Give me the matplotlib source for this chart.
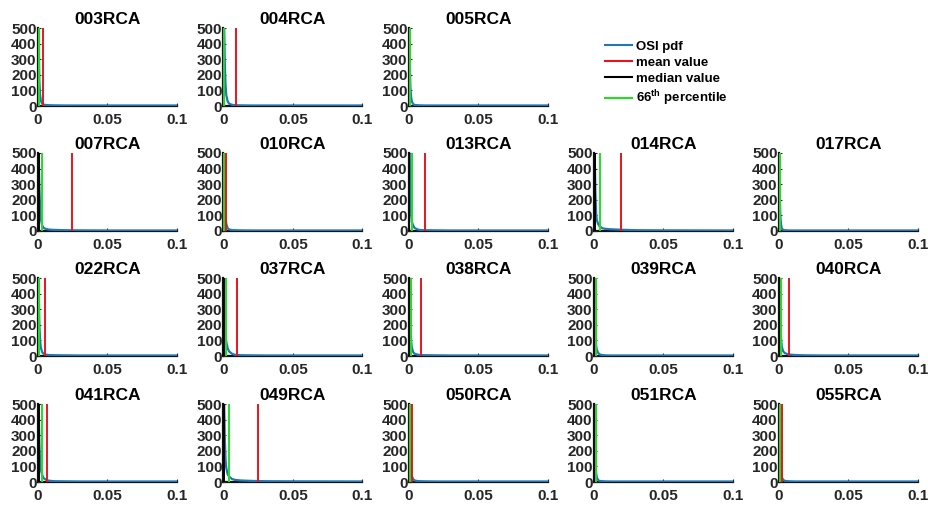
import matplotlib.pyplot as plt
from matplotlib.lines import Line2D

plt.rcParams['font.family'] = ['Liberation Sans', 'DejaVu Sans']
plt.rcParams['font.weight'] = 'bold'
plt.rcParams['mathtext.fontset'] = 'custom'
plt.rcParams['mathtext.bf'] = 'Liberation Sans:bold'
plt.rcParams['mathtext.rm'] = 'Liberation Sans:bold'

# subjects, laid out row by row (row 1 has a legend in slot 4 and slot 5 empty)
subjects = ['003RCA', '004RCA', '005RCA',
            '007RCA', '010RCA', '013RCA', '014RCA', '017RCA',
            '022RCA', '037RCA', '038RCA', '039RCA', '040RCA',
            '041RCA', '049RCA', '050RCA', '051RCA', '055RCA']
slots = [(0, 0), (0, 1), (0, 2),
         (1, 0), (1, 1), (1, 2), (1, 3), (1, 4),
         (2, 0), (2, 1), (2, 2), (2, 3), (2, 4),
         (3, 0), (3, 1), (3, 2), (3, 3), (3, 4)]

# summary statistics of OSI per subject
mean_osi = [0.0033, 0.0093, 0.0008, 0.0243, 0.0020, 0.0115, 0.0192, 0.0006,
            0.0050, 0.0100, 0.0086, 0.0015, 0.0072, 0.0065, 0.0250, 0.0022,
            0.0012, 0.0022]
median_osi = [0.0003, 0.0002, 0.0002, 0.0005, 0.0002, 0.0003, 0.0005, 0.0002,
              0.0002, 0.0005, 0.0003, 0.0002, 0.0004, 0.0004, 0.0004, 0.0002,
              0.0002, 0.0002]
p66_osi = [0.0010, 0.0005, 0.0009, 0.0031, 0.0006, 0.0024, 0.0045, 0.0007,
           0.0008, 0.0017, 0.0012, 0.0013, 0.0016, 0.0030, 0.0043, 0.0010,
           0.0012, 0.0008]

# OSI pdf sampled on a common grid
osi_grid = [0, 0.0005, 0.001, 0.0015, 0.002, 0.003, 0.004, 0.006, 0.008,
            0.012, 0.02, 0.03, 0.05, 0.1]
osi_pdf = [
    [900, 420, 160, 70, 35, 15, 9, 6, 5, 4, 3, 3, 3, 3],
    [900, 500, 250, 130, 70, 30, 15, 8, 5, 4, 3, 3, 3, 3],
    [900, 300, 120, 60, 30, 12, 7, 5, 4, 3, 3, 3, 3, 3],
    [900, 500, 280, 150, 80, 35, 20, 12, 9, 7, 5, 4, 3, 3],
    [900, 350, 140, 80, 45, 18, 10, 6, 5, 4, 3, 3, 3, 3],
    [900, 500, 250, 120, 60, 35, 20, 10, 6, 5, 4, 3, 3, 3],
    [900, 500, 250, 120, 70, 45, 30, 18, 14, 11, 8, 5, 4, 3],
    [900, 250, 90, 40, 15, 8, 5, 4, 3, 3, 3, 3, 3, 3],
    [900, 450, 200, 100, 55, 25, 14, 8, 6, 5, 4, 3, 3, 3],
    [900, 500, 230, 130, 90, 50, 30, 15, 8, 5, 4, 3, 3, 3],
    [900, 450, 200, 100, 55, 25, 15, 9, 6, 5, 4, 3, 3, 3],
    [900, 300, 130, 70, 40, 20, 10, 6, 4, 3, 3, 3, 3, 3],
    [900, 450, 220, 110, 60, 30, 20, 12, 9, 6, 4, 3, 3, 3],
    [900, 500, 250, 130, 80, 45, 25, 13, 8, 5, 4, 3, 3, 3],
    [900, 500, 260, 140, 90, 50, 35, 20, 14, 10, 7, 5, 4, 3],
    [900, 350, 150, 80, 40, 18, 10, 6, 5, 4, 3, 3, 3, 3],
    [900, 300, 120, 60, 30, 12, 7, 5, 4, 3, 3, 3, 3, 3],
    [900, 300, 120, 60, 30, 14, 8, 5, 4, 3, 3, 3, 3, 3],
]

x_ticks = [0, 0.05, 0.1]
x_tick_labels = ['0', '0.05', '0.1']
y_ticks = [0, 100, 200, 300, 400, 500]

pdf_color = '#1f77b4'
mean_color = '#e8141c'
median_color = '#000000'
p66_color = '#22dd22'

W, H = 929, 509
fig = plt.figure(figsize=(W / 100, H / 100), dpi=100)

col_left = [38, 223.5, 409, 594, 779]
row_top = [28, 153, 278, 404]
ax_w, ax_h = 139, 78

for name, (r, c), m, md, p, pdf in zip(subjects, slots, mean_osi, median_osi,
                                        p66_osi, osi_pdf):
    ax = fig.add_axes([col_left[c] / W, (H - row_top[r] - ax_h) / H,
                       ax_w / W, ax_h / H])
    ax.plot(osi_grid, pdf, color=pdf_color, lw=1.6, zorder=2)
    ax.plot([m, m], [0, 500], color=mean_color, lw=1.4, zorder=3)
    ax.plot([md, md], [0, 500], color=median_color, lw=1.4, zorder=4)
    ax.plot([p, p], [0, 500], color=p66_color, lw=1.4, zorder=5)
    ax.set_xlim(0, 0.1)
    ax.set_ylim(0, 500)
    ax.set_xticks(x_ticks)
    ax.set_xticklabels(x_tick_labels)
    ax.set_yticks(y_ticks)
    ax.tick_params(direction='in', length=2, width=0.8, labelsize=11,
                   colors='#262626')
    ax.tick_params(axis='x', pad=5)
    ax.tick_params(axis='y', pad=1)
    for lbl in ax.get_xticklabels() + ax.get_yticklabels():
        lbl.set_fontweight('bold')
    for side in ['top', 'right']:
        ax.spines[side].set_visible(False)
    for side in ['left', 'bottom']:
        ax.spines[side].set_linewidth(1.6)
        ax.spines[side].set_color('#111111')
        ax.spines[side].set_zorder(1)
    ax.set_title(name, fontsize=12.5, fontweight='bold', pad=3)
    ax.patch.set_alpha(0)

handles = [Line2D([], [], color=pdf_color, lw=1.5),
           Line2D([], [], color=mean_color, lw=1.5),
           Line2D([], [], color=median_color, lw=1.5),
           Line2D([], [], color=p66_color, lw=1.5)]
labels = ['OSI pdf', 'mean value', 'median value', r'66$^{\mathbf{th}}$ percentile']
fig.legend(handles, labels, loc='upper left',
           bbox_to_anchor=(600 / W, 1 - 35 / H), frameon=False,
           prop={'size': 9.5, 'weight': 'bold'}, handlelength=2.0,
           handletextpad=0.3, labelspacing=0.3, borderaxespad=0)

fig.savefig('out.png', dpi=100)
